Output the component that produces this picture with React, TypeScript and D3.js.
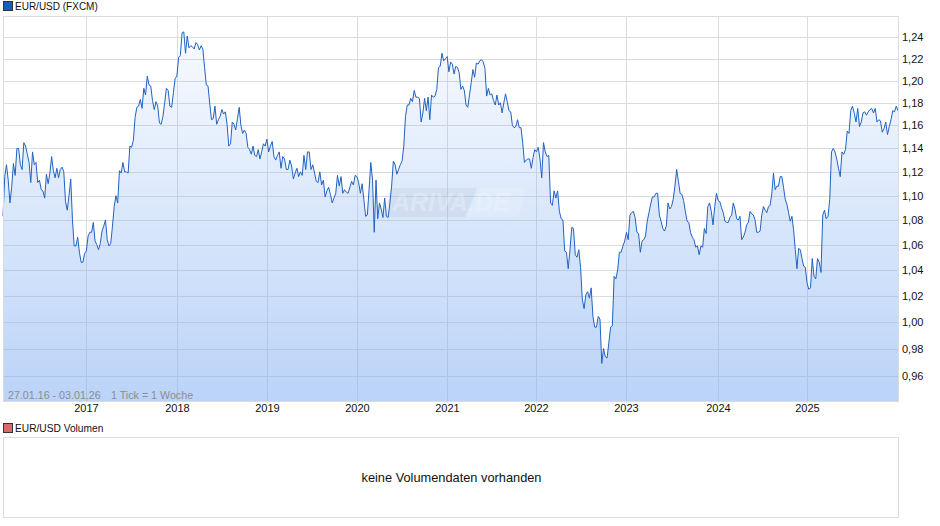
import React from "react";
import * as d3 from "d3";

const rates2016 = [1.083,1.116,1.126,1.113,1.094,1.107,1.127,1.117,1.14,1.14,1.126,1.122,1.145,1.142,1.135,1.128,1.111,1.137,1.126,1.128,1.111,1.113,1.105,1.104,1.098,1.118,1.11,1.119,1.133,1.121,1.115,1.123,1.115,1.122,1.124,1.12,1.095,1.088,1.1,1.114,1.08,1.059,1.059,1.066,1.054,1.046,1.046,1.053];
const rates2017 = [1.055,1.067,1.07,1.07,1.078,1.063,1.06,1.056,1.061,1.071,1.075,1.08,1.064,1.059,1.061,1.075,1.091,1.1,1.094,1.121,1.119,1.128,1.12,1.12,1.119,1.142,1.141,1.147,1.167,1.176,1.177,1.183,1.175,1.193,1.187,1.204,1.196,1.195,1.182,1.174,1.181,1.177,1.162,1.161,1.168,1.18,1.193,1.191,1.177,1.176,1.189,1.202];
const rates2018 = [1.204,1.221,1.223,1.244,1.245,1.225,1.241,1.23,1.232,1.231,1.229,1.235,1.233,1.228,1.232,1.229,1.212,1.196,1.195,1.179,1.165,1.166,1.177,1.161,1.165,1.168,1.174,1.17,1.172,1.161,1.142,1.144,1.163,1.161,1.156,1.166,1.176,1.16,1.153,1.156,1.153,1.141,1.139,1.135,1.142,1.134,1.133,1.139,1.131,1.137,1.144,1.142];
const rates2019 = [1.148,1.137,1.142,1.146,1.133,1.13,1.134,1.137,1.123,1.133,1.131,1.122,1.122,1.13,1.125,1.114,1.119,1.123,1.116,1.12,1.117,1.134,1.122,1.137,1.137,1.122,1.126,1.119,1.112,1.111,1.12,1.109,1.113,1.099,1.104,1.107,1.101,1.094,1.098,1.102,1.117,1.108,1.116,1.102,1.105,1.103,1.102,1.107,1.112,1.109,1.117];
const rates2020 = [1.116,1.111,1.102,1.11,1.097,1.083,1.084,1.105,1.128,1.113,1.07,1.113,1.081,1.094,1.089,1.082,1.098,1.083,1.082,1.094,1.108,1.129,1.126,1.118,1.122,1.126,1.129,1.142,1.168,1.178,1.178,1.184,1.181,1.191,1.185,1.185,1.184,1.163,1.171,1.184,1.173,1.185,1.165,1.187,1.185,1.186,1.192,1.212,1.213,1.225,1.218,1.22];
const rates2021 = [1.222,1.208,1.217,1.215,1.206,1.213,1.212,1.207,1.192,1.195,1.191,1.178,1.176,1.187,1.198,1.21,1.203,1.216,1.215,1.218,1.219,1.217,1.211,1.186,1.193,1.187,1.188,1.182,1.178,1.187,1.178,1.18,1.171,1.18,1.188,1.181,1.173,1.172,1.16,1.158,1.159,1.165,1.158,1.158,1.145,1.128,1.13,1.131,1.131,1.123,1.132,1.139];
const rates2022 = [1.137,1.141,1.131,1.115,1.145,1.137,1.133,1.134,1.094,1.092,1.104,1.098,1.104,1.087,1.081,1.08,1.055,1.054,1.041,1.056,1.074,1.073,1.052,1.05,1.056,1.042,1.017,1.01,1.021,1.023,1.018,1.026,1.004,0.996,0.996,1.004,1.002,0.969,0.98,0.974,0.973,0.984,0.996,0.997,1.035,1.033,1.04,1.054,1.054,1.059,1.063];
const rates2023 = [1.07,1.064,1.084,1.086,1.087,1.082,1.07,1.069,1.054,1.063,1.064,1.067,1.079,1.086,1.093,1.099,1.099,1.102,1.102,1.084,1.079,1.073,1.071,1.075,1.094,1.089,1.091,1.097,1.108,1.122,1.112,1.102,1.101,1.096,1.087,1.079,1.078,1.07,1.066,1.064,1.058,1.059,1.052,1.059,1.058,1.073,1.069,1.091,1.094,1.087,1.076,1.091,1.102];
const rates2024 = [1.096,1.095,1.09,1.086,1.079,1.078,1.078,1.082,1.084,1.094,1.089,1.081,1.08,1.083,1.064,1.066,1.07,1.076,1.078,1.087,1.085,1.084,1.08,1.07,1.07,1.071,1.084,1.091,1.088,1.086,1.091,1.092,1.102,1.119,1.105,1.108,1.108,1.116,1.116,1.107,1.097,1.093,1.086,1.079,1.083,1.072,1.056,1.041,1.057,1.056,1.049,1.043,1.042];
const rates2025 = [1.03,1.025,1.026,1.049,1.035,1.033,1.049,1.046,1.038,1.084,1.088,1.081,1.083,1.097,1.137,1.14,1.137,1.131,1.123,1.116,1.137,1.135,1.139,1.155,1.153,1.173,1.177,1.171,1.163,1.175,1.159,1.163,1.171,1.172,1.169,1.172,1.174,1.175,1.171,1.175,1.163,1.165,1.164,1.154,1.157,1.163,1.152,1.159,1.165,1.173,1.172,1.177,1.173];

const firstDate = "2016-01-27";
const lastDate = "2026-01-03";
const tickDates = ["2016-12-30","2018-01-01","2019-01-01","2020-01-01","2021-01-01","2021-12-29","2022-12-29","2024-01-05","2024-12-30"];
const yearLabels = [2017,2018,2019,2020,2021,2022,2023,2024,2025];
const yearSeries = [rates2016,rates2017,rates2018,rates2019,rates2020,rates2021,rates2022,rates2023,rates2024,rates2025];
const priceTicks = [1.24,1.22,1.2,1.18,1.16,1.14,1.12,1.1,1.08,1.06,1.04,1.02,1,0.98,0.96];

const titleMain = "EUR/USD (FXCM)";
const titleVolume = "EUR/USD Volumen";
const rangeLabel = "27.01.16 - 03.01.26";
const tickLabel = "1 Tick = 1 Woche";
const noVolume = "keine Volumendaten vorhanden";

const FONT = "'Liberation Sans', Arial, sans-serif";
const left = 3, right = 898, top = 16, bottom = 401;

const parse = (s: string) => new Date(s + "T00:00:00Z");
const bounds = [firstDate, ...tickDates, lastDate].map(parse);
const points = yearSeries.flatMap((vals, k) => {
  const a = +bounds[k], b = +bounds[k + 1];
  const last = k === yearSeries.length - 1;
  return vals.map((v, i) => ({
    date: new Date(a + ((b - a) * i) / (last ? vals.length - 1 : vals.length)),
    v,
  }));
});

const x = d3.scaleUtc().domain([parse(firstDate), parse(lastDate)]).range([left, right]);
const y = d3.scaleLog().domain([0.9419, 1.26]).range([bottom, top]);
const line = d3.line<{ date: Date; v: number }>().x((d) => x(d.date)).y((d) => y(d.v));
const area = d3.area<{ date: Date; v: number }>().x((d) => x(d.date)).y0(bottom).y1((d) => y(d.v));

export default function App() {
  return (
    <svg width={940} height={526} style={{ position: "absolute", left: 0, top: 0, display: "block" }} fontFamily={FONT}>
      <defs>
        <linearGradient id="fill" x1="0" y1={top} x2="0" y2={bottom} gradientUnits="userSpaceOnUse">
          <stop offset="0" stopColor="rgb(130,175,242)" stopOpacity={0.03} />
          <stop offset="1" stopColor="rgb(130,175,242)" stopOpacity={0.55} />
        </linearGradient>
      </defs>

      <rect x={3.5} y={1.5} width={9} height={9} fill="#1a5cbd" stroke="#333" strokeWidth={1} />
      <text x={15} y={9.5} fontSize={10} fill="#111">{titleMain}</text>

      {priceTicks.map((t) => (
        <line key={t} x1={left} x2={right} y1={Math.round(y(t)) + 0.5} y2={Math.round(y(t)) + 0.5} stroke="#dcdcdc" />
      ))}
      {tickDates.map((t) => {
        const px = Math.round(x(parse(t))) + 0.5;
        return <line key={t} x1={px} x2={px} y1={top} y2={bottom + 2} stroke="#dcdcdc" />;
      })}

      <path d={area(points) ?? ""} fill="url(#fill)" />

      <path d="M392 188 H477 L465 217 H388 Q383 217 385 212 L390 190 Q390.5 188 392 188 Z" fill="#a9b8cc" opacity={0.2} />
      <path d="M479 188 H522 Q526 188 525 192 L520 212 Q519 217 514 217 H467 Z" fill="#ffffff" opacity={0.14} />
      <text x={392} y={211} fontSize={25} fontWeight="bold" fontStyle="italic" fill="#f2f6fd" opacity={0.32}>ARIVA.DE</text>

      <path d={line(points) ?? ""} fill="none" stroke="#2262c2" strokeWidth={1} strokeLinejoin="round" />

      <rect x={left + 0.5} y={top + 0.5} width={right - left} height={bottom - top} fill="none" stroke="#dcdcdc" />

      <text x={8} y={399} fontSize={10.7} fill="#8d8d8d">{rangeLabel}</text>
      <text x={111} y={399} fontSize={10.7} fill="#8d8d8d">{tickLabel}</text>

      {priceTicks.map((t) => (
        <text key={t} x={902} y={y(t) + 4} fontSize={11} fill="#111">
          {d3.format(".2f")(t).replace(".", ",")}
        </text>
      ))}
      {tickDates.map((t, i) => (
        <text key={t} x={Math.round(x(parse(t))) + 0.5} y={412} fontSize={11} textAnchor="middle" fill="#111">{yearLabels[i]}</text>
      ))}

      <rect x={3.5} y={423.5} width={9} height={9} fill="#d96a6a" stroke="#333" strokeWidth={1} />
      <text x={15} y={432} fontSize={10.2} fill="#111">{titleVolume}</text>
      <rect x={3.5} y={437.5} width={895} height={80} fill="#fff" stroke="#dcdcdc" />
      <text x={451.5} y={482} fontSize={12.8} textAnchor="middle" fill="#111">{noVolume}</text>
    </svg>
  );
}
